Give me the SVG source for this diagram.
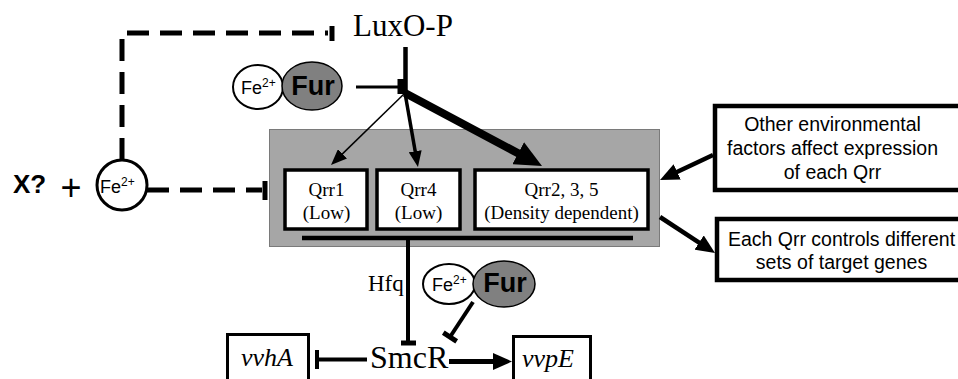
<svg xmlns="http://www.w3.org/2000/svg" width="958" height="379" viewBox="0 0 958 379">
<defs>
<style>
.serif{font-family:"Liberation Serif","Times New Roman",serif;fill:#000}
.sans{font-family:"Liberation Sans",Arial,sans-serif;fill:#000}
.box{fill:#fff;stroke:#000}
.ln{fill:none;stroke:#000}
.dash{fill:none;stroke:#000;stroke-width:5;stroke-dasharray:22 11}
.fe{fill:#fff;stroke:#000;stroke-width:2}
.fur{fill:#808080;stroke:#000;stroke-width:1.5}
.fet{font-family:"Liberation Sans",Arial,sans-serif;fill:#000;font-size:18px}
.sup{font-size:12px}
</style>
<marker id="ahS" markerUnits="userSpaceOnUse" markerWidth="16" markerHeight="13" refX="4" refY="6.5" orient="auto" viewBox="0 0 16 13"><path d="M0,0 L16,6.5 L0,13 z" fill="#000"/></marker>
<marker id="ahM" markerUnits="userSpaceOnUse" markerWidth="19" markerHeight="17" refX="5" refY="8.5" orient="auto" viewBox="0 0 19 17"><path d="M0,0 L19,8.5 L0,17 z" fill="#000"/></marker>
<marker id="ahL" markerUnits="userSpaceOnUse" markerWidth="27" markerHeight="25" refX="9" refY="12.5" orient="auto" viewBox="0 0 27 25"><path d="M0,0 L27,12.5 L0,25 z" fill="#000"/></marker>
</defs>
<rect width="958" height="379" fill="#fff"/>

<g id="qrr-group">
<rect x="269.5" y="129.5" width="390" height="117" fill="#a6a6a6" stroke="#7a7a7a" stroke-width="1"/>
</g>

<g id="qrr1">
<rect class="box" x="285" y="170" width="82" height="59" stroke-width="3.5"/>
<text class="serif" x="326.5" y="196" font-size="19" text-anchor="middle">Qrr1</text>
<text class="serif" x="326.5" y="219" font-size="19" text-anchor="middle">(Low)</text>
</g>
<g id="qrr4">
<rect class="box" x="377" y="170" width="83" height="59" stroke-width="3.5"/>
<text class="serif" x="418.5" y="196" font-size="19" text-anchor="middle">Qrr4</text>
<text class="serif" x="418.5" y="219" font-size="19" text-anchor="middle">(Low)</text>
</g>
<g id="qrr235">
<rect class="box" x="475" y="170" width="173" height="59" stroke-width="3.5"/>
<text class="serif" x="561.5" y="196" font-size="19" text-anchor="middle">Qrr2, 3, 5</text>
<text class="serif" x="561.5" y="219" font-size="19" text-anchor="middle">(Density dependent)</text>
</g>

<g id="luxop">
<text class="serif" x="353" y="36" font-size="31">LuxO-P</text>
</g>

<g id="x-fe">
<text class="sans" x="13" y="193" font-size="26" font-weight="bold">X?</text>
<text class="sans" x="71" y="200" font-size="36" text-anchor="middle">+</text>
<circle cx="122" cy="185" r="25" fill="#fff" stroke="#000" stroke-width="3"/>
<text class="fet" x="100" y="193">Fe<tspan class="sup" dy="-7">2+</tspan></text>
</g>

<g id="fe-fur-top">
<ellipse class="fe" cx="258" cy="87" rx="25" ry="22"/>
<ellipse class="fur" cx="312" cy="86" rx="30" ry="24"/>
<text class="fet" x="241" y="94">Fe<tspan class="sup" dy="-7">2+</tspan></text>
<text class="sans" x="313" y="95" font-size="27" font-weight="bold" text-anchor="middle">Fur</text>
</g>

<g id="fe-fur-bottom">
<ellipse class="fe" cx="449" cy="284" rx="26" ry="20"/>
<ellipse class="fur" cx="504" cy="284" rx="31" ry="23"/>
<text class="fet" x="432" y="291">Fe<tspan class="sup" dy="-7">2+</tspan></text>
<text class="sans" x="505" y="292" font-size="27" font-weight="bold" text-anchor="middle">Fur</text>
</g>

<g id="hfq">
<text class="serif" x="368" y="291" font-size="23">Hfq</text>
</g>

<g id="smcr">
<text class="serif" x="370" y="368" font-size="32">SmcR</text>
</g>

<g id="vvhA">
<rect class="box" x="227.5" y="334.5" width="81" height="60" stroke-width="3"/>
<text class="serif" x="241" y="366" font-size="26" font-style="italic">vvhA</text>
</g>

<g id="vvpE">
<rect class="box" x="513.5" y="336.5" width="77" height="60" stroke-width="3"/>
<text class="serif" x="522" y="367" font-size="26" font-style="italic">vvpE</text>
</g>

<g id="env-box">
<rect class="box" x="715" y="106" width="262" height="84" stroke-width="4.5"/>
<text class="sans" x="832.5" y="131" font-size="19.5" text-anchor="middle">Other environmental</text>
<text class="sans" x="832.5" y="155" font-size="19.5" text-anchor="middle">factors affect expression</text>
<text class="sans" x="832.5" y="179" font-size="19.5" text-anchor="middle">of each Qrr</text>
</g>

<g id="targets-box">
<rect class="box" x="717" y="219" width="262" height="61" stroke-width="4.5"/>
<text class="sans" x="841.5" y="246" font-size="19.5" text-anchor="middle">Each Qrr controls different</text>
<text class="sans" x="841.5" y="269" font-size="19.5" text-anchor="middle">sets of target genes</text>
</g>

<g id="connectors">
<path class="dash" d="M122,160 V33 H328"/>
<line class="ln" x1="332" y1="26" x2="332" y2="41" stroke-width="5"/>
<path class="dash" d="M147,190 H262"/>
<line class="ln" x1="265" y1="181" x2="265" y2="200" stroke-width="5"/>
<line class="ln" x1="405.5" y1="47" x2="405.5" y2="95" stroke-width="4.5"/>
<line class="ln" x1="356" y1="87" x2="400" y2="87" stroke-width="3"/>
<line class="ln" x1="401" y1="79" x2="401" y2="94" stroke-width="7"/>
<line class="ln" x1="405" y1="93" x2="339.6" y2="156.6" stroke-width="1.5" marker-end="url(#ahS)"/>
<line class="ln" x1="405" y1="93" x2="415.9" y2="155.2" stroke-width="3.5" marker-end="url(#ahS)"/>
<line class="ln" x1="405" y1="93" x2="526.1" y2="157.5" stroke-width="8" marker-end="url(#ahL)"/>
<line class="ln" x1="713" y1="155" x2="672.7" y2="174" stroke-width="4.5" marker-end="url(#ahM)"/>
<line class="ln" x1="660" y1="217" x2="703.3" y2="245.3" stroke-width="4.5" marker-end="url(#ahM)"/>
<line class="ln" x1="302" y1="238" x2="633" y2="238" stroke-width="4.5"/>
<line class="ln" x1="408" y1="238" x2="408" y2="343" stroke-width="4"/>
<line class="ln" x1="401" y1="343" x2="416" y2="343" stroke-width="5"/>
<line class="ln" x1="473" y1="302" x2="450" y2="337" stroke-width="4"/>
<line class="ln" x1="443.3" y1="332.6" x2="456.7" y2="341.4" stroke-width="5"/>
<line class="ln" x1="316" y1="359.5" x2="367" y2="359.5" stroke-width="4"/>
<line class="ln" x1="317" y1="350" x2="317" y2="369" stroke-width="4"/>
<line class="ln" x1="449" y1="361.5" x2="498" y2="361.5" stroke-width="5" marker-end="url(#ahM)"/>
</g>
</svg>
